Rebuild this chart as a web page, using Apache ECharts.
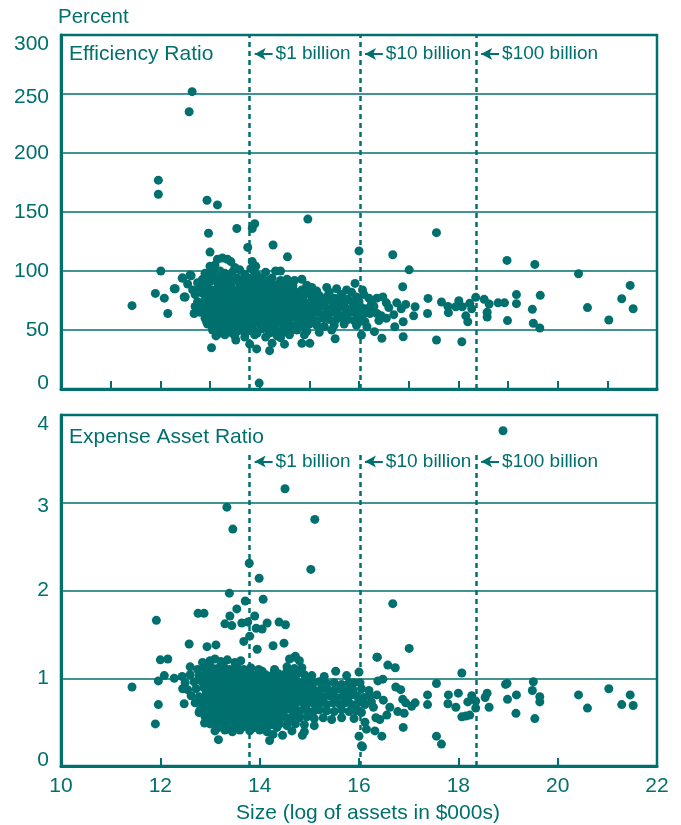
<!DOCTYPE html>
<html>
<head>
<meta charset="utf-8">
<script src="https://cdn.jsdelivr.net/npm/echarts@6/dist/echarts.min.js"></script>
<style>
html,body{margin:0;padding:0;background:#fff;}
#chart{width:681px;height:825px;}
</style>
</head>
<body>
<div id="chart"></div>
<script>
// ---------- DATA ----------
const xTickLabels = ['10','12','14','16','18','20','22'];
const effTicks = [0,50,100,150,200,250,300];
const expTicks = [0,1,2,3,4];
const thresholdNames = ['$1 billion','$10 billion','$100 billion'];
const thresholdX = [13.8, 16.02, 18.36];

// Efficiency ratio (percent) vs log size
const effOutliers = [
 [12.64,252],[12.58,235],[11.96,177],[11.96,165],[12.94,160],[13.15,156],[14.97,144],[13.9,140],[13.85,136],
 [13.54,136],[12.97,132],[14.27,122],[13.76,120],[13.0,116],[16.0,117],[14.56,112],[12.01,100],[11.43,70.6],
 [11.9,81],[12.08,77],[12.28,85],[12.15,64],[12.44,94],[12.6,96.6],[12.48,78],[12.68,64],[12.93,57],[13.03,35],
 [13.52,41.5],[13.8,38],[13.94,34],[14.2,32.5],[14.25,38.7],[14.5,38],[14.85,38.7],[15.01,38.7],[15.52,42.6],
 [14.12,44],[14.42,43.5],[13.99,5],
 [17.56,132.5],[16.68,113.8],[17.01,101],[16.88,86.7],[18.98,109],[19.54,105.6],[20.42,97.7],[21.46,87.8],
 [21.29,76.5],[21.52,68],[21.03,58.5],[20.6,69],[19.65,79.4],[19.49,67.5],[19.51,55.7],[19.64,51.7],[19.17,80],
 [19.17,72.3],[18.99,58],[18.93,73],[18.8,73],[18.62,72],[18.52,76],[18.58,65],[18.58,61],[18.35,77.7],
 [18.23,72.6],[18.27,68],[18.19,57],[18.15,62],[18.07,40],[18.01,74.8],[17.95,69.7],[18.08,69.7],[17.8,64.7],
 [17.79,70],[17.66,73.7],[17.56,41.5],[17.39,76.8],[17.38,64],[17.13,69.7],[17.1,62],[16.94,71.7],[16.89,57],
 [16.89,44.3],[16.76,73],[16.72,52.8],[16.46,43],[16.48,78],[16.36,77],[16.36,64],[16.31,48.6],[16.16,52.8],
 [16.05,45.8],[15.92,89.5],[16.07,84]
];
const effCloud = [
 [13.15,110],[13.25,111],[13.35,110],[13.42,108],[13.85,108],[13.92,104],
 [13.0,104],[13.1,105],[13.5,103],[13.6,101],[13.82,102],
 [12.9,98],[13.05,99],[13.2,100],[13.3,98],[13.45,99],[13.7,97],[13.9,99],[14.12,99],[14.32,100],[14.42,100],[13.96,96],
 [12.45,94],[12.62,96],[12.85,93],[12.95,95],[13.1,94],[13.25,95],[13.38,93],[13.55,94],[13.68,92],[13.82,94],[14.05,93],[14.25,94],[14.55,93],[14.7,92],[14.85,93],
 [12.55,89],[12.75,90],[12.9,88],[13.0,91],[13.15,90],[13.3,89],[13.45,91],[13.6,89],[13.75,90],[13.9,88],[14.05,89],[14.2,90],[14.35,88],[14.5,89],[14.65,88],[14.95,88],[15.05,86],[15.35,86],[15.55,85],[15.75,84],
 [12.3,85],[12.65,84],[12.8,86],[12.95,85],[13.05,84],[13.2,86],[13.35,85],[13.5,84],[13.65,86],[13.8,85],[13.95,84],[14.1,85],[14.25,86],[14.4,84],[14.55,85],[14.7,83],[14.85,84],[15.0,82],[15.15,83],[15.4,82],[15.65,80],[15.85,82],[16.1,80],
 [12.5,78],[12.7,80],[12.85,81],[12.98,79],[13.1,80],[13.22,81],[13.35,79],[13.48,80],[13.6,81],[13.72,79],[13.85,80],[13.98,81],[14.1,79],[14.22,80],[14.35,81],[14.48,79],[14.6,80],[14.75,79],[14.9,80],[15.05,78],[15.2,79],[15.35,78],[15.5,77],[15.62,78],[15.78,76],[15.95,78],[16.2,77],
 [12.75,74],[12.9,75],[13.02,76],[13.15,74],[13.28,75],[13.4,76],[13.52,74],[13.65,75],[13.78,76],[13.9,74],[14.02,75],[14.15,76],[14.28,74],[14.4,75],[14.52,76],[14.65,74],[14.78,75],[14.92,73],[15.05,74],[15.18,75],[15.3,73],[15.45,74],[15.6,72],[15.72,74],[15.88,73],[16.0,74],[16.25,72],[16.55,73],
 [12.7,70],[12.85,69],[12.98,71],[13.1,70],[13.22,69],[13.35,71],[13.48,70],[13.6,69],[13.72,71],[13.85,70],[13.98,69],[14.1,71],[14.22,70],[14.35,69],[14.48,71],[14.6,70],[14.72,69],[14.85,71],[14.98,70],[15.1,69],[15.22,70],[15.35,68],[15.48,70],[15.6,69],[15.75,68],[15.9,70],[16.05,69],[16.15,68],[16.3,70],[16.6,69],[16.85,68],
 [12.8,65],[12.92,64],[13.05,66],[13.18,65],[13.3,64],[13.42,66],[13.55,65],[13.68,64],[13.8,66],[13.92,65],[14.05,64],[14.18,66],[14.3,65],[14.42,64],[14.55,66],[14.68,65],[14.8,64],[14.92,65],[15.05,64],[15.18,65],[15.3,63],[15.42,65],[15.55,64],[15.7,63],[15.82,65],[15.95,64],[16.08,63],[16.22,64],[16.45,62],[16.7,63],
 [12.9,60],[13.02,59],[13.15,61],[13.28,60],[13.4,59],[13.52,61],[13.65,60],[13.78,59],[13.9,61],[14.02,60],[14.15,59],[14.28,61],[14.4,60],[14.52,59],[14.65,61],[14.78,60],[14.9,59],[15.02,60],[15.15,58],[15.28,60],[15.4,59],[15.52,58],[15.65,60],[15.78,59],[15.9,58],[16.02,59],[16.12,57],[16.4,58],[16.55,60],
 [12.95,55],[13.1,54],[13.22,56],[13.35,55],[13.48,54],[13.6,56],[13.72,55],[13.85,54],[13.98,56],[14.1,55],[14.22,54],[14.35,56],[14.48,55],[14.62,54],[14.75,55],[14.88,53],[15.0,55],[15.15,54],[15.3,53],[15.5,54],[15.7,55],[15.95,54],
 [13.05,50],[13.18,49],[13.3,51],[13.42,50],[13.55,49],[13.68,51],[13.8,50],[13.92,49],[14.05,51],[14.18,50],[14.3,49],[14.45,50],[14.6,48],[14.75,50],[14.95,49],[15.2,48],[15.45,50],
 [13.12,45],[13.3,46],[13.5,45],[13.7,44],[13.9,46],[14.35,45],[14.6,46],[14.9,46],
 [13.05,82.5],[13.3,82.5],[13.55,82.5],[13.8,82.5],[14.05,82.5],[14.3,82.5],
 [13.0,77.5],[13.25,77.5],[13.5,77.5],[13.75,77.5],[14.0,77.5],[14.25,77.5],[14.5,77.5],
 [12.95,72.5],[13.2,72.5],[13.45,72.5],[13.7,72.5],[13.95,72.5],[14.2,72.5],[14.45,72.5],
 [13.0,67.5],[13.25,67.5],[13.5,67.5],[13.75,67.5],[14.0,67.5],[14.25,67.5],[14.5,67.5],[14.75,67.5],
 [13.05,62.5],[13.3,62.5],[13.55,62.5],[13.8,62.5],[14.05,62.5],[14.3,62.5],[14.55,62.5],
 [13.15,57.5],[13.4,57.5],[13.65,57.5],[13.9,57.5],[14.15,57.5],[14.4,57.5]
];
const effFill = [
 [13.17,92],[13.42,92],[13.67,92],[13.92,92],[14.17,92],[14.42,92],
 [12.92,87.5],[13.17,87.5],[13.42,87.5],[13.67,87.5],[13.92,87.5],[14.17,87.5],[14.42,87.5],[14.67,87.5],
 [12.92,82.5],[13.17,82.5],[13.42,82.5],[13.67,82.5],[13.92,82.5],[14.17,82.5],[14.42,82.5],[14.67,82.5],[14.92,82.5],
 [13.12,77.5],[13.37,77.5],[13.62,77.5],[13.87,77.5],[14.12,77.5],[14.37,77.5],[14.62,77.5],[14.87,77.5],[15.12,77.5],
 [13.07,72.5],[13.32,72.5],[13.57,72.5],[13.82,72.5],[14.07,72.5],[14.32,72.5],[14.57,72.5],[14.82,72.5],[15.07,72.5],
 [13.12,67.5],[13.37,67.5],[13.62,67.5],[13.87,67.5],[14.12,67.5],[14.37,67.5],[14.62,67.5],[14.87,67.5],[15.12,67.5],
 [12.92,62.5],[13.17,62.5],[13.42,62.5],[13.67,62.5],[13.92,62.5],[14.17,62.5],[14.42,62.5],[14.67,62.5],[14.92,62.5],
 [13.02,57.5],[13.27,57.5],[13.52,57.5],[13.77,57.5],[14.02,57.5],[14.27,57.5],[14.52,57.5],[14.77,57.5],
 [13.05,52.5],[13.3,52.5],[13.55,52.5],[13.8,52.5],[14.05,52.5],[14.3,52.5],[14.55,52.5],
 [13.2,47.5],[13.45,47.5],[13.7,47.5],[13.95,47.5],[14.2,47.5],[14.45,47.5]
];

// Expense / asset ratio (percent) vs log size
const expOutliers = [
 [18.9,3.82],[14.51,3.16],[13.34,2.95],[13.46,2.70],[15.11,2.81],[15.03,2.24],[13.79,2.31],[13.99,2.14],
 [13.39,1.97],[13.71,1.88],[14.07,1.90],[13.54,1.79],[12.76,1.74],[12.88,1.74],[11.92,1.66],[13.4,1.71],
 [13.9,1.71],[13.3,1.62],[13.44,1.60],[13.64,1.63],[13.76,1.64],[13.93,1.57],[14.05,1.56],[14.15,1.63],
 [14.39,1.64],[14.52,1.61],[13.68,1.42],[13.8,1.48],[14.27,1.37],[14.49,1.40],[13.95,1.33],[12.58,1.39],
 [12.94,1.36],[13.12,1.38],[12.0,1.21],[12.15,1.22],[11.43,0.90],[11.96,0.70],[11.9,0.48],[11.96,0.97],
 [12.08,1.03],[12.28,1.0],[12.44,1.02],[12.6,1.13],[12.45,0.88],[12.48,0.71],[12.78,0.61],[12.89,0.49],
 [13.17,0.30],[14.2,0.29],[14.27,0.36],[14.46,0.35],[14.86,0.35],[16.05,0.23],[16.0,0.34],[14.7,1.24],
 [16.36,1.24],[15.53,1.08],[16.0,1.07],[16.02,0.95],
 [16.68,1.85],[17.01,1.34],[16.37,1.24],[16.58,1.15],[16.73,1.12],[18.07,1.06],[16.48,0.99],[16.38,0.97],
 [15.8,0.95],[17.56,0.94],[16.74,0.90],[16.84,0.87],[19.51,0.96],[18.95,0.93],[18.98,0.94],[19.49,0.86],
 [19.64,0.79],[19.64,0.73],[19.17,0.81],[18.99,0.76],[19.16,0.60],[19.54,0.54],[20.42,0.81],[20.6,0.66],
 [21.03,0.88],[21.46,0.81],[21.29,0.70],[21.52,0.69],[18.58,0.83],[18.54,0.78],[18.62,0.67],[18.35,0.74],
 [18.35,0.66],[18.27,0.80],[18.19,0.73],[18.07,0.56],[18.15,0.57],[18.23,0.58],[18.0,0.83],[17.95,0.67],
 [17.8,0.81],[17.79,0.71],[17.56,0.34],[17.66,0.25],[17.38,0.81],[17.38,0.70],[17.13,0.72],[17.06,0.68],
 [16.94,0.72],[16.88,0.76],[16.91,0.60],[16.89,0.44],[16.46,0.34],[16.32,0.40],[16.07,0.22],[16.78,0.62],
 [16.62,0.67],[16.56,0.58],[16.42,0.53],[16.34,0.55],[16.36,0.81],[16.49,0.75],[16.25,0.73],[16.29,0.67],
 [16.12,0.50],[16.15,0.42]
];
const expCloud = [
 [12.85,1.18],[13.0,1.2],[13.1,1.22],[13.22,1.19],[13.35,1.21],[13.5,1.18],[13.62,1.2],[14.6,1.22],[14.72,1.25],[14.8,1.2],
 [12.75,1.1],[12.9,1.12],[13.02,1.13],[13.15,1.11],[13.28,1.13],[13.4,1.1],[13.55,1.12],[13.68,1.1],[13.82,1.12],[13.98,1.1],[14.3,1.1],[14.55,1.13],[14.7,1.11],[14.85,1.12],
 [12.6,1.04],[12.78,1.03],[12.9,1.05],[13.0,1.04],[13.12,1.06],[13.25,1.04],[13.38,1.05],[13.5,1.03],[13.62,1.05],[13.75,1.04],[13.88,1.03],[14.0,1.05],[14.12,1.04],[14.25,1.03],[14.38,1.05],[14.5,1.04],[14.62,1.03],[14.75,1.05],[14.9,1.04],[15.05,1.03],[15.3,1.02],[15.75,1.03],
 [12.5,0.95],[12.68,0.96],[12.82,0.97],[12.95,0.95],[13.08,0.97],[13.2,0.96],[13.32,0.95],[13.45,0.97],[13.58,0.96],[13.7,0.95],[13.82,0.97],[13.95,0.96],[14.08,0.95],[14.2,0.97],[14.32,0.96],[14.45,0.95],[14.58,0.97],[14.7,0.96],[14.82,0.95],[14.95,0.97],[15.08,0.95],[15.2,0.96],[15.35,0.94],[15.5,0.95],[15.65,0.93],[15.9,0.95],
 [12.55,0.87],[12.72,0.88],[12.88,0.89],[13.0,0.87],[13.12,0.88],[13.25,0.89],[13.38,0.87],[13.5,0.88],[13.62,0.89],[13.75,0.87],[13.88,0.88],[14.0,0.89],[14.12,0.87],[14.25,0.88],[14.38,0.89],[14.5,0.87],[14.62,0.88],[14.75,0.89],[14.88,0.87],[15.0,0.88],[15.12,0.86],[15.25,0.88],[15.38,0.87],[15.5,0.86],[15.62,0.88],[15.75,0.86],[15.88,0.87],[16.05,0.88],[16.2,0.86],
 [12.62,0.8],[12.78,0.79],[12.92,0.81],[13.05,0.8],[13.18,0.79],[13.3,0.81],[13.42,0.8],[13.55,0.79],[13.68,0.81],[13.8,0.8],[13.92,0.79],[14.05,0.81],[14.18,0.8],[14.3,0.79],[14.42,0.81],[14.55,0.8],[14.68,0.79],[14.8,0.81],[14.92,0.8],[15.05,0.79],[15.18,0.81],[15.3,0.79],[15.42,0.8],[15.55,0.78],[15.68,0.8],[15.8,0.79],[15.95,0.8],[16.1,0.78],[16.22,0.8],
 [12.7,0.72],[12.85,0.71],[12.98,0.73],[13.1,0.72],[13.22,0.71],[13.35,0.73],[13.48,0.72],[13.6,0.71],[13.72,0.73],[13.85,0.72],[13.98,0.71],[14.1,0.73],[14.22,0.72],[14.35,0.71],[14.48,0.73],[14.6,0.72],[14.72,0.71],[14.85,0.73],[14.98,0.72],[15.1,0.71],[15.22,0.72],[15.35,0.7],[15.48,0.72],[15.6,0.71],[15.72,0.72],[15.85,0.7],[15.98,0.72],[16.12,0.7],
 [12.8,0.64],[12.95,0.63],[13.08,0.65],[13.2,0.64],[13.32,0.63],[13.45,0.65],[13.58,0.64],[13.7,0.63],[13.82,0.65],[13.95,0.64],[14.08,0.63],[14.2,0.65],[14.32,0.64],[14.45,0.63],[14.58,0.65],[14.7,0.64],[14.82,0.63],[14.95,0.64],[15.08,0.62],[15.2,0.64],[15.35,0.63],[15.5,0.62],[15.65,0.64],[15.8,0.62],[15.95,0.63],[16.05,0.61],
 [12.9,0.56],[13.02,0.55],[13.15,0.57],[13.28,0.56],[13.4,0.55],[13.52,0.57],[13.65,0.56],[13.78,0.55],[13.9,0.57],[14.02,0.56],[14.15,0.55],[14.28,0.57],[14.4,0.56],[14.52,0.55],[14.65,0.56],[14.8,0.55],[14.95,0.56],[15.1,0.54],[15.28,0.55],[15.45,0.53],[15.65,0.55],[15.9,0.54],
 [13.0,0.48],[13.12,0.47],[13.25,0.49],[13.38,0.48],[13.5,0.47],[13.62,0.49],[13.75,0.48],[13.88,0.47],[14.0,0.49],[14.12,0.48],[14.25,0.47],[14.4,0.48],[14.55,0.46],[14.72,0.48],[14.9,0.47],[15.1,0.46],
 [13.1,0.4],[13.3,0.41],[13.45,0.39],[13.6,0.41],[13.8,0.4],[14.0,0.41],[14.15,0.39],[14.65,0.4],[14.9,0.39],
 [13.1,1.0],[13.35,1.0],[13.6,1.0],[13.85,1.0],[14.1,1.0],[14.35,1.0],
 [13.0,0.92],[13.25,0.92],[13.5,0.92],[13.75,0.92],[14.0,0.92],[14.25,0.92],[14.5,0.92],
 [13.05,0.84],[13.3,0.84],[13.55,0.84],[13.8,0.84],[14.05,0.84],[14.3,0.84],[14.55,0.84],
 [13.0,0.76],[13.25,0.76],[13.5,0.76],[13.75,0.76],[14.0,0.76],[14.25,0.76],[14.5,0.76],[14.75,0.76],
 [13.05,0.68],[13.3,0.68],[13.55,0.68],[13.8,0.68],[14.05,0.68],[14.3,0.68],[14.55,0.68],
 [13.1,0.6],[13.35,0.6],[13.6,0.6],[13.85,0.6],[14.1,0.6],[14.35,0.6],
 [13.2,0.52],[13.45,0.52],[13.7,0.52],[13.95,0.52],[14.2,0.52]
];
const expFill = [
 [13.05,1.08],[13.3,1.08],[13.55,1.08],[13.8,1.08],[14.05,1.08],[14.3,1.08],[14.55,1.08],
 [12.98,1.0],[13.22,1.0],[13.47,1.0],[13.72,1.0],[13.97,1.0],[14.22,1.0],[14.47,1.0],[14.72,1.0],
 [12.88,0.92],[13.12,0.92],[13.37,0.92],[13.62,0.92],[13.87,0.92],[14.12,0.92],[14.37,0.92],[14.62,0.92],[14.87,0.92],
 [12.93,0.84],[13.17,0.84],[13.42,0.84],[13.67,0.84],[13.92,0.84],[14.17,0.84],[14.42,0.84],[14.67,0.84],[14.92,0.84],
 [12.88,0.76],[13.12,0.76],[13.37,0.76],[13.62,0.76],[13.87,0.76],[14.12,0.76],[14.37,0.76],[14.62,0.76],[14.87,0.76],[15.1,0.76],
 [12.93,0.68],[13.17,0.68],[13.42,0.68],[13.67,0.68],[13.92,0.68],[14.17,0.68],[14.42,0.68],[14.67,0.68],[14.92,0.68],
 [12.98,0.6],[13.22,0.6],[13.47,0.6],[13.72,0.6],[13.97,0.6],[14.22,0.6],[14.47,0.6],[14.72,0.6],
 [13.07,0.52],[13.32,0.52],[13.57,0.52],[13.82,0.52],[14.07,0.52],[14.32,0.52],[14.57,0.52],
 [13.18,0.44],[13.4,0.44],[13.65,0.44],[13.9,0.44],[14.1,0.44],[14.35,0.44]
];

// annotation placement (data coords)
const effLabelY = 284;
const expLabelY = 3.47;
const expDashTop = 3.55;
const arrowLen = 0.36;

// ---------- CHART ----------
const C = '#00706f';
const FONT = 'Liberation Sans, Arial, Helvetica, sans-serif';
const chart = echarts.init(document.getElementById('chart'), null, {renderer:'canvas'});

function yLabelFmt(top, second, v){
  if (v === top) return '{t|' + v + '}';
  if (v === second) return '{s|' + v + '}';
  if (v === 0) return '{b|' + v + '}';
  return '{n|' + v + '}';
}
const TF = 21;
const richY = {
  t:{padding:[19,0,0,0], color:C, fontSize:TF, fontFamily:FONT},
  s:{padding:[7,0,0,0], color:C, fontSize:TF, fontFamily:FONT},
  b:{padding:[0,0,11,0], color:C, fontSize:TF, fontFamily:FONT},
  n:{color:C, fontSize:TF, fontFamily:FONT}
};

function annotLines(yVal, withFull, dashTop){
  const data = [];
  thresholdX.forEach((x, i) => {
    if (withFull) {
      data.push({xAxis:x});
    } else {
      data.push([{coord:[x,0]},{coord:[x,dashTop]}]);
    }
    data.push([
      {coord:[x+0.1, yVal], symbol:'arrow', symbolSize:[9,11],
       lineStyle:{type:'solid', width:2, color:C},
       label:{show:true, position:'end', distance:3, formatter:thresholdNames[i],
              color:C, fontSize:19, fontFamily:FONT}},
      {coord:[x+0.1+arrowLen, yVal], symbol:'none'}
    ]);
  });
  return data;
}

const option = {
  animation:false,
  backgroundColor:'#ffffff',
  title:[
    {text:'Percent', left:58, top:7, padding:0, textStyle:{color:C, fontSize:20.5, fontWeight:'normal', fontFamily:FONT}},
    {text:'Efficiency Ratio', left:69, top:44, padding:0, textStyle:{color:C, fontSize:21, fontWeight:'normal', fontFamily:FONT}},
    {text:'Expense Asset Ratio', left:69, top:427, padding:0, textStyle:{color:C, fontSize:21, fontWeight:'normal', fontFamily:FONT}}
  ],
  grid:[
    {left:61, top:35, width:596, height:354, show:true, borderColor:C, borderWidth:2.5, backgroundColor:'transparent'},
    {left:61, top:415, width:596, height:354, show:true, borderColor:C, borderWidth:2.5, backgroundColor:'transparent'}
  ],
  xAxis:[
    {gridIndex:0, type:'value', min:10, max:22, interval:1,
     axisLine:{show:true, lineStyle:{color:C, width:3}},
     axisTick:{show:true, inside:true, length:8, lineStyle:{color:C, width:2}},
     axisLabel:{show:false}, splitLine:{show:false}},
    {gridIndex:1, type:'value', min:10, max:22, interval:2,
     axisLine:{show:true, lineStyle:{color:C, width:3}},
     axisTick:{show:true, inside:true, length:8, lineStyle:{color:C, width:2}},
     axisLabel:{show:true, color:C, fontSize:TF, fontFamily:FONT, margin:10,
       formatter:(v)=>{ const s=String(v); return xTickLabels.indexOf(s)>=0 ? s : ''; }},
     splitLine:{show:false},
     name:'Size (log of assets in $000s)', nameLocation:'middle', nameGap:37,
     nameTextStyle:{color:C, fontSize:21, fontFamily:FONT, padding:[0,0,0,18]}}
  ],
  yAxis:[
    {gridIndex:0, type:'value', min:0, max:300, interval:50,
     axisLine:{show:true, lineStyle:{color:C, width:3}},
     axisTick:{show:false},
     axisLabel:{show:true, margin:12, formatter:(v)=>yLabelFmt(300,250,v), rich:richY},
     splitLine:{show:true, lineStyle:{color:C, width:1.6}}},
    {gridIndex:1, type:'value', min:0, max:4, interval:1,
     axisLine:{show:true, lineStyle:{color:C, width:3}},
     axisTick:{show:false},
     axisLabel:{show:true, margin:12, formatter:(v)=>yLabelFmt(4,3,v), rich:richY},
     splitLine:{show:true, lineStyle:{color:C, width:1.6}}}
  ],
  series:[
    {type:'scatter', xAxisIndex:0, yAxisIndex:0, symbolSize:9, silent:true,
     itemStyle:{color:C, opacity:1},
     data: effCloud.concat(effFill, effOutliers),
     markLine:{silent:true, symbol:['none','none'], animation:false,
       lineStyle:{color:C, type:[5,4], width:2.5},
       label:{show:false},
       data: annotLines(effLabelY, true, 0)}},
    {type:'scatter', xAxisIndex:1, yAxisIndex:1, symbolSize:9, silent:true,
     itemStyle:{color:C, opacity:1},
     data: expCloud.concat(expFill, expOutliers),
     markLine:{silent:true, symbol:['none','none'], animation:false,
       lineStyle:{color:C, type:[5,4], width:2.5},
       label:{show:false},
       data: annotLines(expLabelY, false, expDashTop)}}
  ]
};
chart.setOption(option);
</script>
</body>
</html>
